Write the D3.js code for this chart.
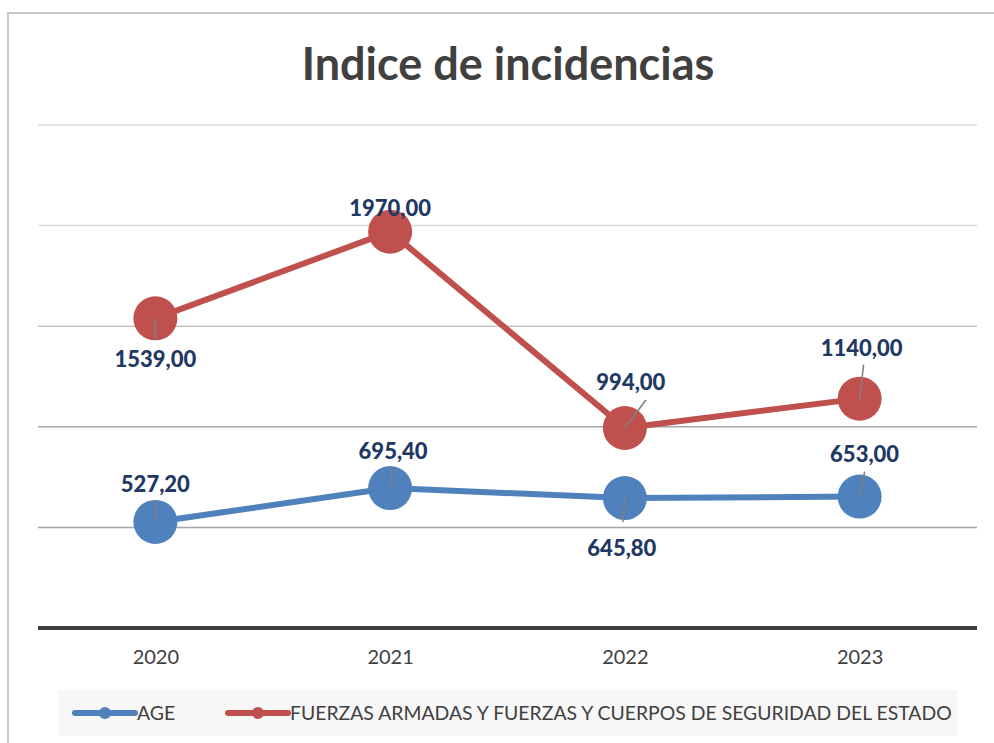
<!DOCTYPE html>
<html>
<head>
<meta charset="utf-8">
<script src="https://cdn.jsdelivr.net/npm/d3@7"></script>
<style>
  body { margin: 0; background: #fff; }
  svg { display: block; }
</style>
</head>
<body>
<script>
// data
var years = ["2020", "2021", "2022", "2023"];
var ageValues = [527.2, 695.4, 645.8, 653.0];
var fuerzasValues = [1539.0, 1970.0, 994.0, 1140.0];
var seriesNames = ["AGE", "FUERZAS ARMADAS Y FUERZAS Y CUERPOS DE SEGURIDAD DEL ESTADO"];
var gridValues = [500, 1000, 1500, 2000, 2500];

// label placement (layout only): [dx, dy of baseline, leader end dx, leader end dy]
var ageLabelPos = [[0, -30, 0, -21], [3, -29, 2, -20], [-3, 58, -2, 24], [5, -35, 5, -25]];
var fuerzasLabelPos = [[0, 49, 0, 21], [0, -16, 0, 0], [6, -38, 21, -28], [2, -43, 4, -34]];

var width = 994, height = 743;
var svg = d3.select("body").append("svg").attr("width", width).attr("height", height);

// outer border of chart area
svg.append("rect").attr("x", 8).attr("y", 13).attr("width", 1100).attr("height", 800)
  .attr("fill", "#fff").attr("stroke", "#c8c8c8").attr("stroke-width", 2);

// title
svg.append("text").attr("x", 508).attr("y", 80).attr("text-anchor", "middle")
  .style("font-family", "Lato, 'Open Sans', sans-serif").style("font-weight", "bold")
  .style("font-size", "45px").attr("fill", "#404040")
  .text("Indice de incidencias");

var x = d3.scalePoint().domain(years).range([38, 977]).padding(0.5);
var y = d3.scaleLinear().domain([0, 2500]).range([628, 125]);

// gridlines
svg.append("g").selectAll("line").data(gridValues).enter().append("line")
  .attr("x1", 38).attr("x2", 977)
  .attr("y1", function(d) { return y(d); }).attr("y2", function(d) { return y(d); })
  .attr("stroke", function(d) { return d >= 2000 ? "#d9d9d9" : (d >= 1500 ? "#c4c4c4" : "#a6a6a6"); })
  .attr("stroke-width", 1.5);

// x axis
var xAxis = svg.append("g").attr("transform", "translate(0," + y(0) + ")")
  .call(d3.axisBottom(x).tickSize(0).tickPadding(22));
xAxis.select(".domain").attr("d", "M38,0H977").attr("stroke", "#404040").attr("stroke-width", 4);
xAxis.selectAll("text").style("font-family", "Lato, 'Open Sans', sans-serif")
  .style("font-size", "20px").attr("fill", "#404040");

var series = [
  { name: seriesNames[0], values: ageValues, color: "#4f81bd", pos: ageLabelPos },
  { name: seriesNames[1], values: fuerzasValues, color: "#c0504d", pos: fuerzasLabelPos }
];

var line = d3.line()
  .x(function(d, i) { return x(years[i]); })
  .y(function(d) { return y(d); });

series.forEach(function(s) {
  var g = svg.append("g");
  g.append("path").datum(s.values).attr("d", line)
    .attr("fill", "none").attr("stroke", s.color).attr("stroke-width", 6)
    .attr("stroke-linejoin", "round");
  g.selectAll("circle").data(s.values).enter().append("circle")
    .attr("cx", function(d, i) { return x(years[i]); })
    .attr("cy", function(d) { return y(d); })
    .attr("r", 22).attr("fill", s.color);
});

series.forEach(function(s) {
  var g = svg.append("g");
  g.selectAll("line").data(s.values).enter().append("line")
    .attr("x1", function(d, i) { return x(years[i]); })
    .attr("y1", function(d) { return y(d); })
    .attr("x2", function(d, i) { return x(years[i]) + s.pos[i][2]; })
    .attr("y2", function(d, i) { return y(d) + s.pos[i][3]; })
    .attr("stroke", "#7f7f7f").attr("stroke-width", 1.5);
  g.selectAll("text").data(s.values).enter().append("text")
    .attr("x", function(d, i) { return x(years[i]) + s.pos[i][0]; })
    .attr("y", function(d, i) { return y(d) + s.pos[i][1]; })
    .attr("text-anchor", "middle")
    .style("font-family", "Lato, 'Open Sans', sans-serif").style("font-weight", "900")
    .style("font-size", "22px").attr("fill", "#1f3864")
    .text(function(d) { return d.toFixed(2).replace(".", ","); });
});

// legend
var legend = svg.append("g");
legend.append("rect").attr("x", 58).attr("y", 690).attr("width", 899).attr("height", 46).attr("fill", "#f7f7f7");
var legendX = [75, 228];
series.forEach(function(s, i) {
  var lx = legendX[i];
  legend.append("line").attr("x1", lx).attr("x2", lx + 60).attr("y1", 713).attr("y2", 713)
    .attr("stroke", s.color).attr("stroke-width", 6).attr("stroke-linecap", "round");
  legend.append("circle").attr("cx", lx + 30).attr("cy", 713).attr("r", 6).attr("fill", s.color);
  legend.append("text").attr("x", lx + 62).attr("y", 720)
    .style("font-family", "Lato, 'Open Sans', sans-serif").style("font-size", "19.4px")
    .attr("fill", "#404040").text(s.name);
});
</script>
</body>
</html>
